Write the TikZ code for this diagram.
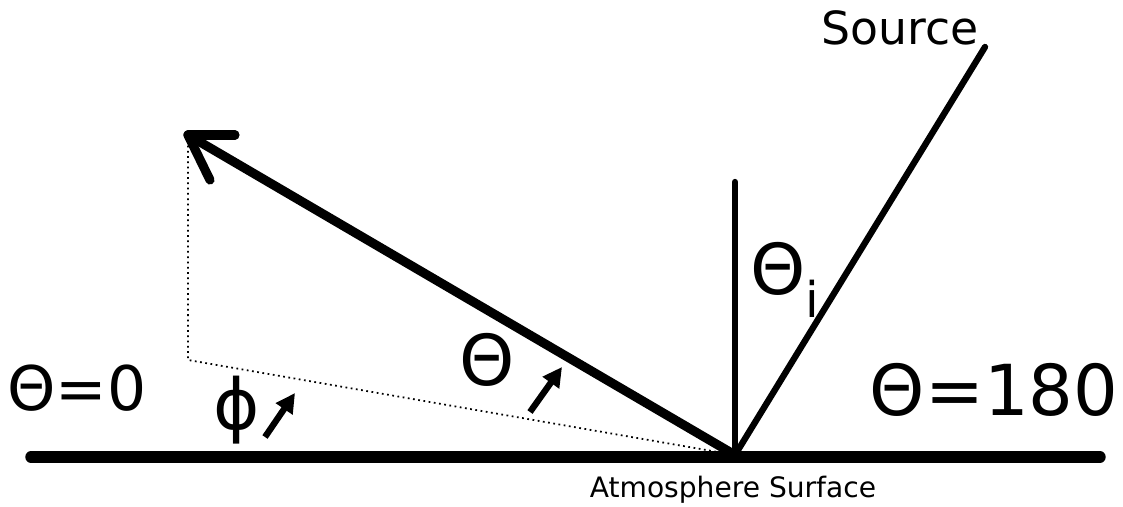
\documentclass[tikz,border=0pt]{standalone}
\usepackage{fontspec}
\setmainfont{DejaVu Sans}
\usepackage{tikz}
\usetikzlibrary{arrows.meta, positioning}
\tikzstyle{bigsym} = [inner sep=0pt, font=\fontsize{40}{40}\selectfont]
\tikzstyle{caption} = [inner sep=0pt, font=\fontsize{16}{16}\selectfont]
\tikzstyle{ray} = [line width=5.2pt, line cap=round]
\tikzstyle{thinray} = [line width=3.6pt, line cap=round]
\tikzstyle{guide} = [line width=1pt, dotted]
\tikzstyle{arrow} = [line width=3.6pt, -{Triangle[length=11pt, width=11pt]}]

\begin{document}
\begin{tikzpicture}

\useasboundingbox (0,0) rectangle (22.46,-10.14);

\coordinate (O) at (14.7,-9.1);
\coordinate (tip) at (3.76,-2.7);
\coordinate (barb1) at (4.7,-2.7);
\coordinate (barb2) at (4.2,-3.6);
\coordinate (corner) at (3.76,-7.2);
\coordinate (top) at (14.7,-3.64);
\coordinate (src) at (19.7,-0.94);
\coordinate (left) at (0.62,-9.14);
\coordinate (right) at (22.0,-9.14);
\coordinate (thetaA) at (10.6,-8.24);
\coordinate (thetaB) at (11.24,-7.34);
\coordinate (phiA) at (5.3,-8.74);
\coordinate (phiB) at (5.9,-7.86);

\node (source) [inner sep=0pt, font=\fontsize{26}{26}\selectfont] at (18.0,-0.56) {Source};
\node (zero) [bigsym, font=\fontsize{35}{35}\selectfont] at (1.54,-7.76) {Θ=0};
\node (oneeighty) [bigsym] at (19.88,-7.8) {Θ=180};
\node (theta) [bigsym] at (9.74,-7.2) {Θ};
\node (phi) [bigsym] at (4.74,-8.2) {ϕ};
\node (thetai) [bigsym] at (15.7,-5.6) {Θ$_{\mathrm{i}}$};
\node (surface) [caption] at (14.66,-9.8) {Atmosphere Surface};

% surface and rays
\draw [line width=6.5pt, line cap=round] (left) -- (right);
\draw [thinray] (O) -- (top);
\draw [thinray] (O) -- (src);
\draw [ray] (O) -- (tip);
\draw [ray] (tip) -- (barb1);
\draw [ray] (tip) -- (barb2);

% projection
\draw [guide] (tip) -- (corner) -- (O);

% angle markers
\draw [arrow] (thetaA) -- (thetaB);
\draw [arrow] (phiA) -- (phiB);

\end{tikzpicture}
\end{document}
